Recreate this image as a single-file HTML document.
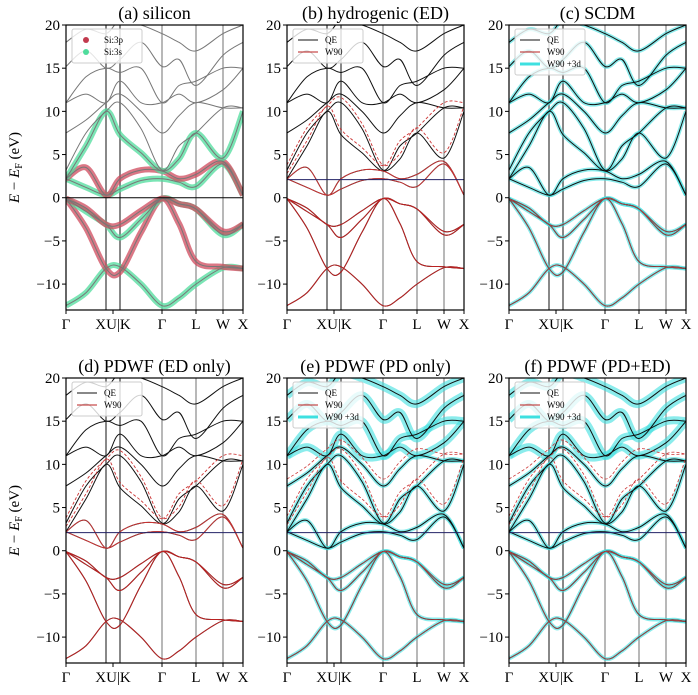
<!DOCTYPE html>
<html><head><meta charset="utf-8"><style>
body{margin:0;background:#fff}
svg{display:block;font-family:"Liberation Serif",serif}
</style></head><body>
<svg id="fig" width="698" height="695" viewBox="0 0 698 695"></svg>
<script>
const kTicks=["Γ","XU|K","Γ","L","W","X"];
const kNodes=[0,20,40,54,75,96,113,130,157,177];
const kLines=[40,54,96,130,157];
const yTicks=[20,15,10,5,0,-5,-10];
const bandsVal=[
[-12.5,-11,-8.2,-8.0,-10,-12.5,-11.6,-10,-8.1,-8.2],
[-0.1,-3.5,-8.2,-8.6,-4,-0.1,-3,-7.4,-8.0,-8.2],
[-0.1,-1.6,-3.1,-4.6,-2.5,-0.1,-0.7,-1.3,-4.3,-3.1],
[-0.1,-1.2,-3.1,-3.1,-1.5,-0.1,-0.7,-1.3,-3.9,-3.1]
];
const bandsCond=[
[2.2,1.2,0.3,1.0,2.0,2.2,1.8,1.3,3.9,0.3],
[2.2,3.5,0.3,2.2,3.2,3.1,2.2,2.7,4.2,0.3],
[2.2,6,10,7.3,5.2,3.1,4.5,7.5,4.6,10],
[3.2,7.5,10,11,8,3.2,6,7.5,10.4,10.4],
[7.5,9,11,12,10,7.5,9.5,11,10.4,10.4],
[11,12,11,13.5,11,11,12,11,12.5,15],
[11,14,15,14.5,15,11,13,13.5,15,15],
[15.2,17,15,16,18,15.2,16,13,16.5,18],
[18,19.5,19,20.5,20,19,18,17,19,20]
];
const panelTitles=["(a) silicon","(b) hydrogenic (ED)","(c) SCDM","(d) PDWF (ED only)","(e) PDWF (PD only)","(f) PDWF (PD+ED)"];
const panelStyle=["a","b","c","b","e","e"];
const frozenE=2.1;
const yMin=-13,yMax=20;

const svg=document.getElementById('fig');
const NS="http://www.w3.org/2000/svg";
function mk(t,a,p){const e=document.createElementNS(NS,t);for(const k in a)e.setAttribute(k,a[k]);(p||svg).appendChild(e);return e;}
const X0=[66,287,509],Y0=[25,378],W=177,H=285;
function path(vals,sx,sy){
 const pts=kNodes.map((k,i)=>[sx(k),sy(vals[i])]);
 let d="M"+pts[0][0]+","+pts[0][1];
 for(let i=0;i<pts.length-1;i++){
  const p0=pts[Math.max(0,i-1)],p1=pts[i],p2=pts[i+1],p3=pts[Math.min(pts.length-1,i+2)];
  const c1=[p1[0]+(p2[0]-p0[0])/6,p1[1]+(p2[1]-p0[1])/6];
  const c2=[p2[0]-(p3[0]-p1[0])/6,p2[1]-(p3[1]-p1[1])/6];
  d+=` C${c1[0].toFixed(1)},${c1[1].toFixed(1)} ${c2[0].toFixed(1)},${c2[1].toFixed(1)} ${p2[0].toFixed(1)},${p2[1].toFixed(1)}`;
 }
 return d;
}
const defs=mk('defs',{});
panelTitles.forEach((title,pi)=>{
 const col=pi%3,row=Math.floor(pi/3);
 const x0=X0[col],y0=Y0[row];
 const sx=k=>x0+k/177*W;
 const sy=v=>y0+(yMax-v)/(yMax-yMin)*H;
 const g=mk('g',{});
 
 
 const cp=mk('clipPath',{id:'cp'+pi},defs);
 mk('rect',{x:x0,y:y0,width:W,height:H},cp);
 const t=mk('text',{x:x0+W/2,y:y0-6,'text-anchor':'middle','font-size':18},g);
 t.textContent=title;
 
 
 const pg=mk('g',{'clip-path':`url(#cp${pi})`},g);
 kLines.forEach(k=>mk('line',{x1:sx(k),x2:sx(k),y1:y0,y2:y0+H,stroke:'#888','stroke-width':k==40||k==54?2:1.2},pg));
 const st=panelStyle[pi];
 const all=bandsVal.concat(bandsCond);
 if(st==='a'){
  all.forEach((b,i)=>{
   if(i<7) mk('path',{d:path(b,sx,sy),fill:'none',stroke:i%2?'#cf4a5c':'#4fdc9c','stroke-width':6,'stroke-opacity':0.75},pg);
  });
  all.forEach(b=>mk('path',{d:path(b,sx,sy),fill:'none',stroke:'#777','stroke-width':1},pg));
  mk('line',{x1:x0,x2:x0+W,y1:sy(0),y2:sy(0),stroke:'#000','stroke-width':1},pg);
 } else if(st==='b'){
  all.forEach(b=>mk('path',{d:path(b,sx,sy),fill:'none',stroke:'#111','stroke-width':1},pg));
  bandsVal.forEach(b=>mk('path',{d:path(b,sx,sy),fill:'none',stroke:'#b22','stroke-width':1},pg));
  bandsCond.slice(0,4).forEach((b,i)=>mk('path',{d:path(b.map(v=>v+(i>1?0.6:0)),sx,sy),fill:'none',stroke:'#c33','stroke-width':0.9,'stroke-dasharray':i>1?'3,2':''},pg));
  mk('line',{x1:x0,x2:x0+W,y1:sy(frozenE),y2:sy(frozenE),stroke:'#226','stroke-width':1},pg);
 } else {
  all.forEach((b,i)=>mk('path',{d:path(b,sx,sy),fill:'none',stroke:'#3ee0e0','stroke-width':st==='e'&&i>8?8:4,'stroke-opacity':0.6},pg));
  all.forEach(b=>mk('path',{d:path(b,sx,sy),fill:'none',stroke:'#111','stroke-width':1},pg));
  bandsVal.forEach(b=>mk('path',{d:path(b,sx,sy),fill:'none',stroke:'#a44','stroke-width':0.8},pg));
  if(st==='e'){
   bandsCond.slice(2,5).forEach(b=>mk('path',{d:path(b.map(v=>v+0.8),sx,sy),fill:'none',stroke:'#c33','stroke-width':0.8,'stroke-dasharray':'3,2'},pg));
   mk('line',{x1:x0,x2:x0+W,y1:sy(frozenE),y2:sy(frozenE),stroke:'#226','stroke-width':1},pg);
  }
 }
 mk('rect',{x:x0,y:y0,width:W,height:H,fill:'none',stroke:'#000','stroke-width':1.2},g);
 yTicks.forEach(v=>{
  mk('line',{x1:x0-4,x2:x0,y1:sy(v),y2:sy(v),stroke:'#000'},g);
  const tt=mk('text',{x:x0-6,y:sy(v)+5,'text-anchor':'end','font-size':15},g);
  tt.textContent=v<0?'−'+(-v):String(v);
  
  
 });
 const kt=[0,47,96,130,157,177];
 kTicks.forEach((lab,i)=>{
  mk('line',{x1:sx(kt[i]),x2:sx(kt[i]),y1:y0+H,y2:y0+H+4,stroke:'#000'},g);
  const tt=mk('text',{x:sx(kt[i]),y:y0+H+19,'text-anchor':'middle','font-size':15},g);
  tt.textContent=lab;
  
  
 });
 // legend
 const lg=mk('g',{},g);
 
 
 const items=st==='a'?[['Si:3p','#c23a4e','dot'],['Si:3s','#4fdc9c','dot']]:
   (st==='b'?[['QE','#111','l'],['W90','#b22','l']]:[['QE','#111','l'],['W90','#b22','l'],['W90 +3d','#3ee0e0','c']]);
 mk('rect',{x:x0+6,y:y0+4,width:70,height:10+items.length*12,fill:'#fff','fill-opacity':0.8,stroke:'#ccc',rx:2},lg);
 items.forEach((it,i)=>{
  const yy=y0+15+i*12;
  if(it[2]==='dot') mk('circle',{cx:x0+20,cy:yy,r:3,fill:it[1]},lg);
  else mk('line',{x1:x0+11,x2:x0+31,y1:yy,y2:yy,stroke:it[1],'stroke-width':it[2]==='c'?3:1},lg);
  const tt=mk('text',{x:x0+38,y:yy+3,'font-size':9},lg);
  tt.textContent=it[0];
 });
});
[0,1].forEach(r=>{
 const t=mk('text',{transform:`translate(19,${Y0[r]+H/2}) rotate(-90)`,'text-anchor':'middle','font-size':15},svg);
 t.innerHTML='<tspan font-style="italic">E</tspan> − <tspan font-style="italic">E</tspan><tspan font-size="10" dy="3">F</tspan><tspan dy="-3"> (eV)</tspan>';
 
 
});
</script>
</body></html>
